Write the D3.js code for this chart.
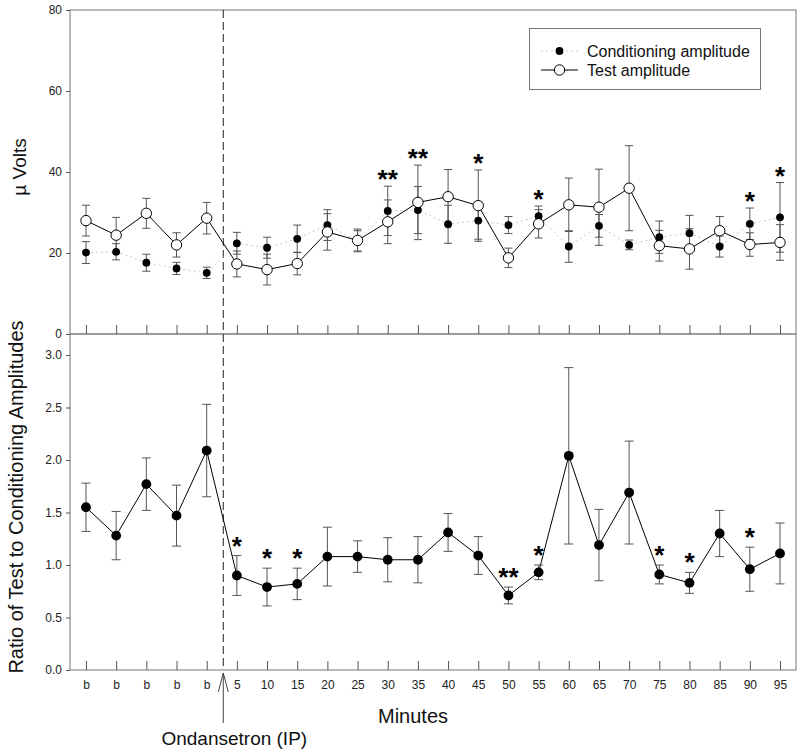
<!DOCTYPE html>
<html>
<head>
<meta charset="utf-8">
<script src="https://cdn.jsdelivr.net/npm/d3@7"></script>
<style>
  html, body { margin: 0; padding: 0; background: #fff; }
  svg { display: block; font-family: Arial, "Liberation Sans", sans-serif; }
</style>
</head>
<body>
<svg id="chart" width="800" height="752"></svg>
<script>
// ---------- data ----------
const categories = ["b","b","b","b","b","5","10","15","20","25","30","35","40","45","50","55","60","65","70","75","80","85","90","95"];
const condAmp = [20.1,20.3,17.6,16.2,15.1,22.4,21.3,23.5,26.9,23.0,30.4,30.6,27.1,28.0,26.9,29.1,21.6,26.7,22.0,23.9,24.9,21.6,27.2,28.8];
const condErr = [2.7,2.0,2.1,1.5,1.4,2.7,2.6,3.4,3.8,2.5,6.1,5.8,4.7,4.6,2.1,2.5,3.9,2.8,1.2,4.0,4.4,2.6,3.9,8.6];
const testAmp = [28.0,24.4,29.8,22.0,28.6,17.3,15.9,17.4,25.2,23.1,27.7,32.5,33.9,31.7,18.8,27.2,31.9,31.3,36.0,21.8,21.0,25.5,22.1,22.6];
const testErr = [3.8,4.4,3.7,3.0,3.9,3.2,3.8,2.8,4.5,2.8,5.4,9.2,6.7,8.8,2.4,3.5,6.6,9.4,10.5,3.8,5.0,3.5,2.9,4.4];
const ratio    = [1.55,1.28,1.77,1.47,2.09,0.90,0.79,0.82,1.08,1.08,1.05,1.05,1.31,1.09,0.71,0.93,2.04,1.19,1.69,0.91,0.83,1.30,0.96,1.11];
const ratioErr = [0.23,0.23,0.25,0.29,0.44,0.19,0.18,0.15,0.28,0.15,0.21,0.22,0.18,0.18,0.08,0.07,0.84,0.34,0.49,0.09,0.10,0.22,0.21,0.29];
const topStars = ["","","","","","","","","","","**","**","","*","","*","","","","","","","*","*"];
const botStars = ["","","","","","*","*","*","","","","","","","**","*","","","","*","*","","*",""];
const topTicks = [0,20,40,60,80];
const botTicks = [0,0.5,1.0,1.5,2.0,2.5,3.0];
const injectionIndex = 4; // last baseline sample before injection
const injectionLabel = "Ondansetron (IP)";

// ---------- layout ----------
const L = 70, R = 796, T = 10, MID = 334, B = 670;
const svg = d3.select("#chart");
const idx = d3.range(categories.length);
const x = d3.scalePoint().domain(idx).range([L, R]).padding(0.53);
const yTop = d3.scaleLinear().domain([0, 80]).range([MID, T]);
const yBot = d3.scaleLinear().domain([0, 3.2]).range([B, MID]);
const frameColor = "#8a8a8a";
const errColor = "#555";

// frames
svg.append("rect").attr("x", L).attr("y", T).attr("width", R - L).attr("height", MID - T)
  .attr("fill", "none").attr("stroke", frameColor).attr("stroke-width", 1.2);
svg.append("rect").attr("x", L).attr("y", MID).attr("width", R - L).attr("height", B - MID)
  .attr("fill", "none").attr("stroke", frameColor).attr("stroke-width", 1.2);

// y axes
function styleAxis(g) {
  g.select(".domain").remove();
  g.selectAll(".tick line").attr("stroke", "#555");
  g.selectAll(".tick text").attr("fill", "#222").style("font-size", "12px")
    .style("font-family", "Arial, 'Liberation Sans', sans-serif");
}
svg.append("g").attr("transform", `translate(${L},0)`)
  .call(d3.axisLeft(yTop).tickValues(topTicks).tickSize(4).tickPadding(4).tickFormat(d3.format("d")))
  .call(styleAxis);
svg.append("g").attr("transform", `translate(${L},0)`)
  .call(d3.axisLeft(yBot).tickValues(botTicks).tickSize(4).tickPadding(4).tickFormat(d3.format(".1f")))
  .call(styleAxis);

// x axes (ticks inside)
svg.append("g").attr("transform", `translate(0,${MID})`)
  .call(d3.axisBottom(x).tickSizeInner(-9).tickSizeOuter(0).tickFormat(""))
  .call(styleAxis);
svg.append("g").attr("transform", `translate(0,${B})`)
  .call(d3.axisBottom(x).tickSizeInner(-9).tickSizeOuter(0).tickPadding(10).tickFormat(i => categories[i]))
  .call(styleAxis);

// axis titles
svg.append("text").attr("transform", `translate(26,${(T + MID) / 2 - 5}) rotate(-90)`)
  .attr("text-anchor", "middle").style("font-size", "19px").attr("fill", "#111").text("\u00b5 Volts");
svg.append("text").attr("transform", `translate(23,${(MID + B) / 2 - 5}) rotate(-90)`)
  .attr("text-anchor", "middle").style("font-size", "20px").attr("fill", "#111")
  .text("Ratio of Test to Conditioning Amplitudes");
svg.append("text").attr("x", (L + R) / 2 - 20).attr("y", 723).attr("text-anchor", "middle")
  .style("font-size", "20px").attr("fill", "#111").text("Minutes");

// injection marker
const step = x.step();
const xInj = x(injectionIndex) + step * 0.55;
svg.append("line").attr("x1", xInj).attr("x2", xInj).attr("y1", T).attr("y2", B)
  .attr("stroke", "#222").attr("stroke-width", 1).attr("stroke-dasharray", "8,4");
svg.append("line").attr("x1", xInj).attr("x2", xInj).attr("y1", 673).attr("y2", 723)
  .attr("stroke", "#444").attr("stroke-width", 1);
svg.append("path").attr("d", `M${xInj - 5},692 L${xInj},673 L${xInj + 5},692`)
  .attr("fill", "none").attr("stroke", "#444").attr("stroke-width", 1);
svg.append("text").attr("x", xInj + 11).attr("y", 745).attr("text-anchor", "middle")
  .style("font-size", "19px").attr("fill", "#111").text(injectionLabel);

// helpers
function errorBars(vals, errs, y, cap) {
  const g = svg.append("g").attr("stroke", errColor).attr("stroke-width", 1);
  idx.forEach(i => {
    const xi = x(i), y1 = y(vals[i] + errs[i]), y0 = y(vals[i] - errs[i]);
    g.append("line").attr("x1", xi).attr("x2", xi).attr("y1", y1).attr("y2", y0);
    g.append("line").attr("x1", xi - cap).attr("x2", xi + cap).attr("y1", y1).attr("y2", y1);
    g.append("line").attr("x1", xi - cap).attr("x2", xi + cap).attr("y1", y0).attr("y2", y0);
  });
}
function stars(labels, tops, y, off) {
  svg.append("g").selectAll("text").data(idx.filter(i => labels[i])).join("text")
    .attr("x", i => x(i)).attr("y", i => y(tops[i]) - off + 14)
    .attr("text-anchor", "middle").style("font-size", "26px").style("font-weight", "bold")
    .attr("fill", "#000").text(i => labels[i]);
}

// ---------- top panel ----------
const line = (y, vals) => d3.line().x(i => x(i)).y(i => y(vals[i]))(idx);
svg.append("path").attr("d", line(yTop, condAmp)).attr("fill", "none")
  .attr("stroke", "#c8c8c8").attr("stroke-width", 1).attr("stroke-dasharray", "2,3");
svg.append("path").attr("d", line(yTop, testAmp)).attr("fill", "none")
  .attr("stroke", "#000").attr("stroke-width", 1);
errorBars(condAmp, condErr, yTop, 4);
errorBars(testAmp, testErr, yTop, 4);
svg.append("g").selectAll("circle").data(idx).join("circle")
  .attr("cx", i => x(i)).attr("cy", i => yTop(condAmp[i])).attr("r", 3.9).attr("fill", "#000");
svg.append("g").selectAll("circle").data(idx).join("circle")
  .attr("cx", i => x(i)).attr("cy", i => yTop(testAmp[i])).attr("r", 5.2)
  .attr("fill", "#fff").attr("stroke", "#000").attr("stroke-width", 1);
const topMax = idx.map(i => Math.max(condAmp[i] + condErr[i], testAmp[i] + testErr[i]));
stars(topStars, topMax, yTop, 12);

// legend
const lg = svg.append("g");
lg.append("rect").attr("x", 529.5).attr("y", 28.5).attr("width", 231).attr("height", 61)
  .attr("fill", "#fff").attr("stroke", "#777").attr("stroke-width", 1);
lg.append("line").attr("x1", 541).attr("x2", 578).attr("y1", 51).attr("y2", 51)
  .attr("stroke", "#d0d0d0").attr("stroke-dasharray", "2,3");
lg.append("circle").attr("cx", 559.5).attr("cy", 51).attr("r", 3.9).attr("fill", "#000");
lg.append("text").attr("x", 587).attr("y", 56.5).style("font-size", "16px").attr("fill", "#111")
  .text("Conditioning amplitude");
lg.append("line").attr("x1", 541).attr("x2", 578).attr("y1", 70).attr("y2", 70)
  .attr("stroke", "#000");
lg.append("circle").attr("cx", 559.5).attr("cy", 70).attr("r", 5.2)
  .attr("fill", "#fff").attr("stroke", "#000");
lg.append("text").attr("x", 587).attr("y", 75.5).style("font-size", "16px").attr("fill", "#111")
  .text("Test amplitude");

// ---------- bottom panel ----------
svg.append("path").attr("d", line(yBot, ratio)).attr("fill", "none")
  .attr("stroke", "#000").attr("stroke-width", 1);
errorBars(ratio, ratioErr, yBot, 4.5);
svg.append("g").selectAll("circle").data(idx).join("circle")
  .attr("cx", i => x(i)).attr("cy", i => yBot(ratio[i])).attr("r", 4.9).attr("fill", "#000");
const botMax = idx.map(i => ratio[i] + ratioErr[i]);
stars(botStars, botMax, yBot, 15);
</script>
</body>
</html>
